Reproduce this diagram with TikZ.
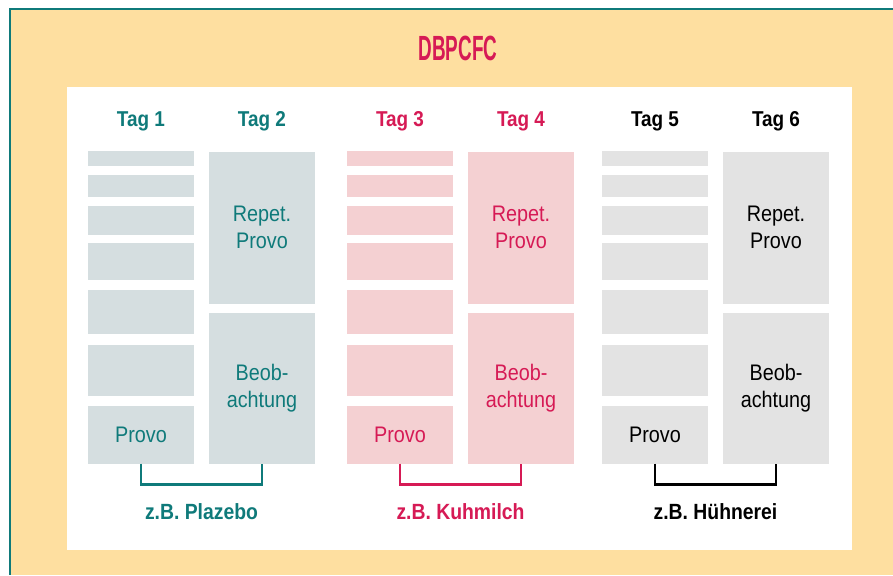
\documentclass[tikz,border=0pt]{standalone}
\usepackage{fontspec}
\setmainfont[FakeStretch=0.88]{Liberation Sans}
\newfontfamily\titlefont[FakeStretch=0.54]{Liberation Sans}
\usetikzlibrary{positioning}

\definecolor{tealdk}{HTML}{0F7A7A}
\definecolor{crimson}{HTML}{D61A55}
\definecolor{frameyel}{HTML}{FEDFA0}
\definecolor{tealfill}{HTML}{D5DEE0}
\definecolor{pinkfill}{HTML}{F4D0D2}
\definecolor{grayfill}{HTML}{E3E3E3}

\tikzset{
  dayhead/.style={font=\fontsize{21.5}{24}\selectfont\bfseries},
  strip/.style={minimum width=106pt, inner sep=0pt, align=center,
    font=\fontsize{22.5}{27}\selectfont},
  bracket/.style={line width=2.6pt},
  example/.style={font=\fontsize{22}{25}\selectfont\bfseries},
}

\begin{document}
\begin{tikzpicture}[x=1pt,y=-1pt]
    \useasboundingbox (0,0) rectangle (893,575);

    % frame and panel
    \fill[frameyel] (10,9) rectangle (893,575);
    \draw[tealdk, line width=2pt] (893,9) -- (10,9) -- (10,575);
    \fill[white] (67,87) rectangle (852,550);

    \node[crimson, font=\titlefont\fontsize{35}{38}\selectfont\bfseries] (title) at (458,48) {DBPCFC};

    % one group per food
    \foreach \g/\xa/\fc/\tc/\da/\db/\ex in {
        1/141/tealfill/tealdk/1/2/Plazebo,
        2/400/pinkfill/crimson/3/4/Kuhmilch,
        3/655/grayfill/black/5/6/Hühnerei} {
      \pgfmathsetmacro\xb{\xa+121}

      \node[dayhead, text=\tc] (tag\da) at (\xa,121) {Tag \da};
      \node[dayhead, text=\tc] (tag\db) at (\xb,121) {Tag \db};

      \foreach \i/\ya/\yb in {1/151/166, 2/175/197, 3/206/235, 4/243/280, 5/290/334, 6/345/396}
        \node[strip, fill=\fc, minimum height={(\yb-\ya)*1pt}] (s\g\i) at (\xa,{(\ya+\yb)/2}) {};

      \node[strip, fill=\fc, text=\tc, minimum height=58pt] (prov\g) at (\xa,434.5) {Provo};
      \node[strip, fill=\fc, text=\tc, minimum height=152pt] (rep\g) at (\xb,227.5) {Repet.\\Provo};
      \node[strip, fill=\fc, text=\tc, minimum height=151pt] (beob\g) at (\xb,388) {Beob-\\achtung};

      \draw[bracket, \tc] (prov\g.south) -- ++(0,20.5) -| (beob\g.south);

      \node[example, text=\tc] (ex\g) at ({\xa+60.5},512) {z.B. \ex};
    }
\end{tikzpicture}
\end{document}
